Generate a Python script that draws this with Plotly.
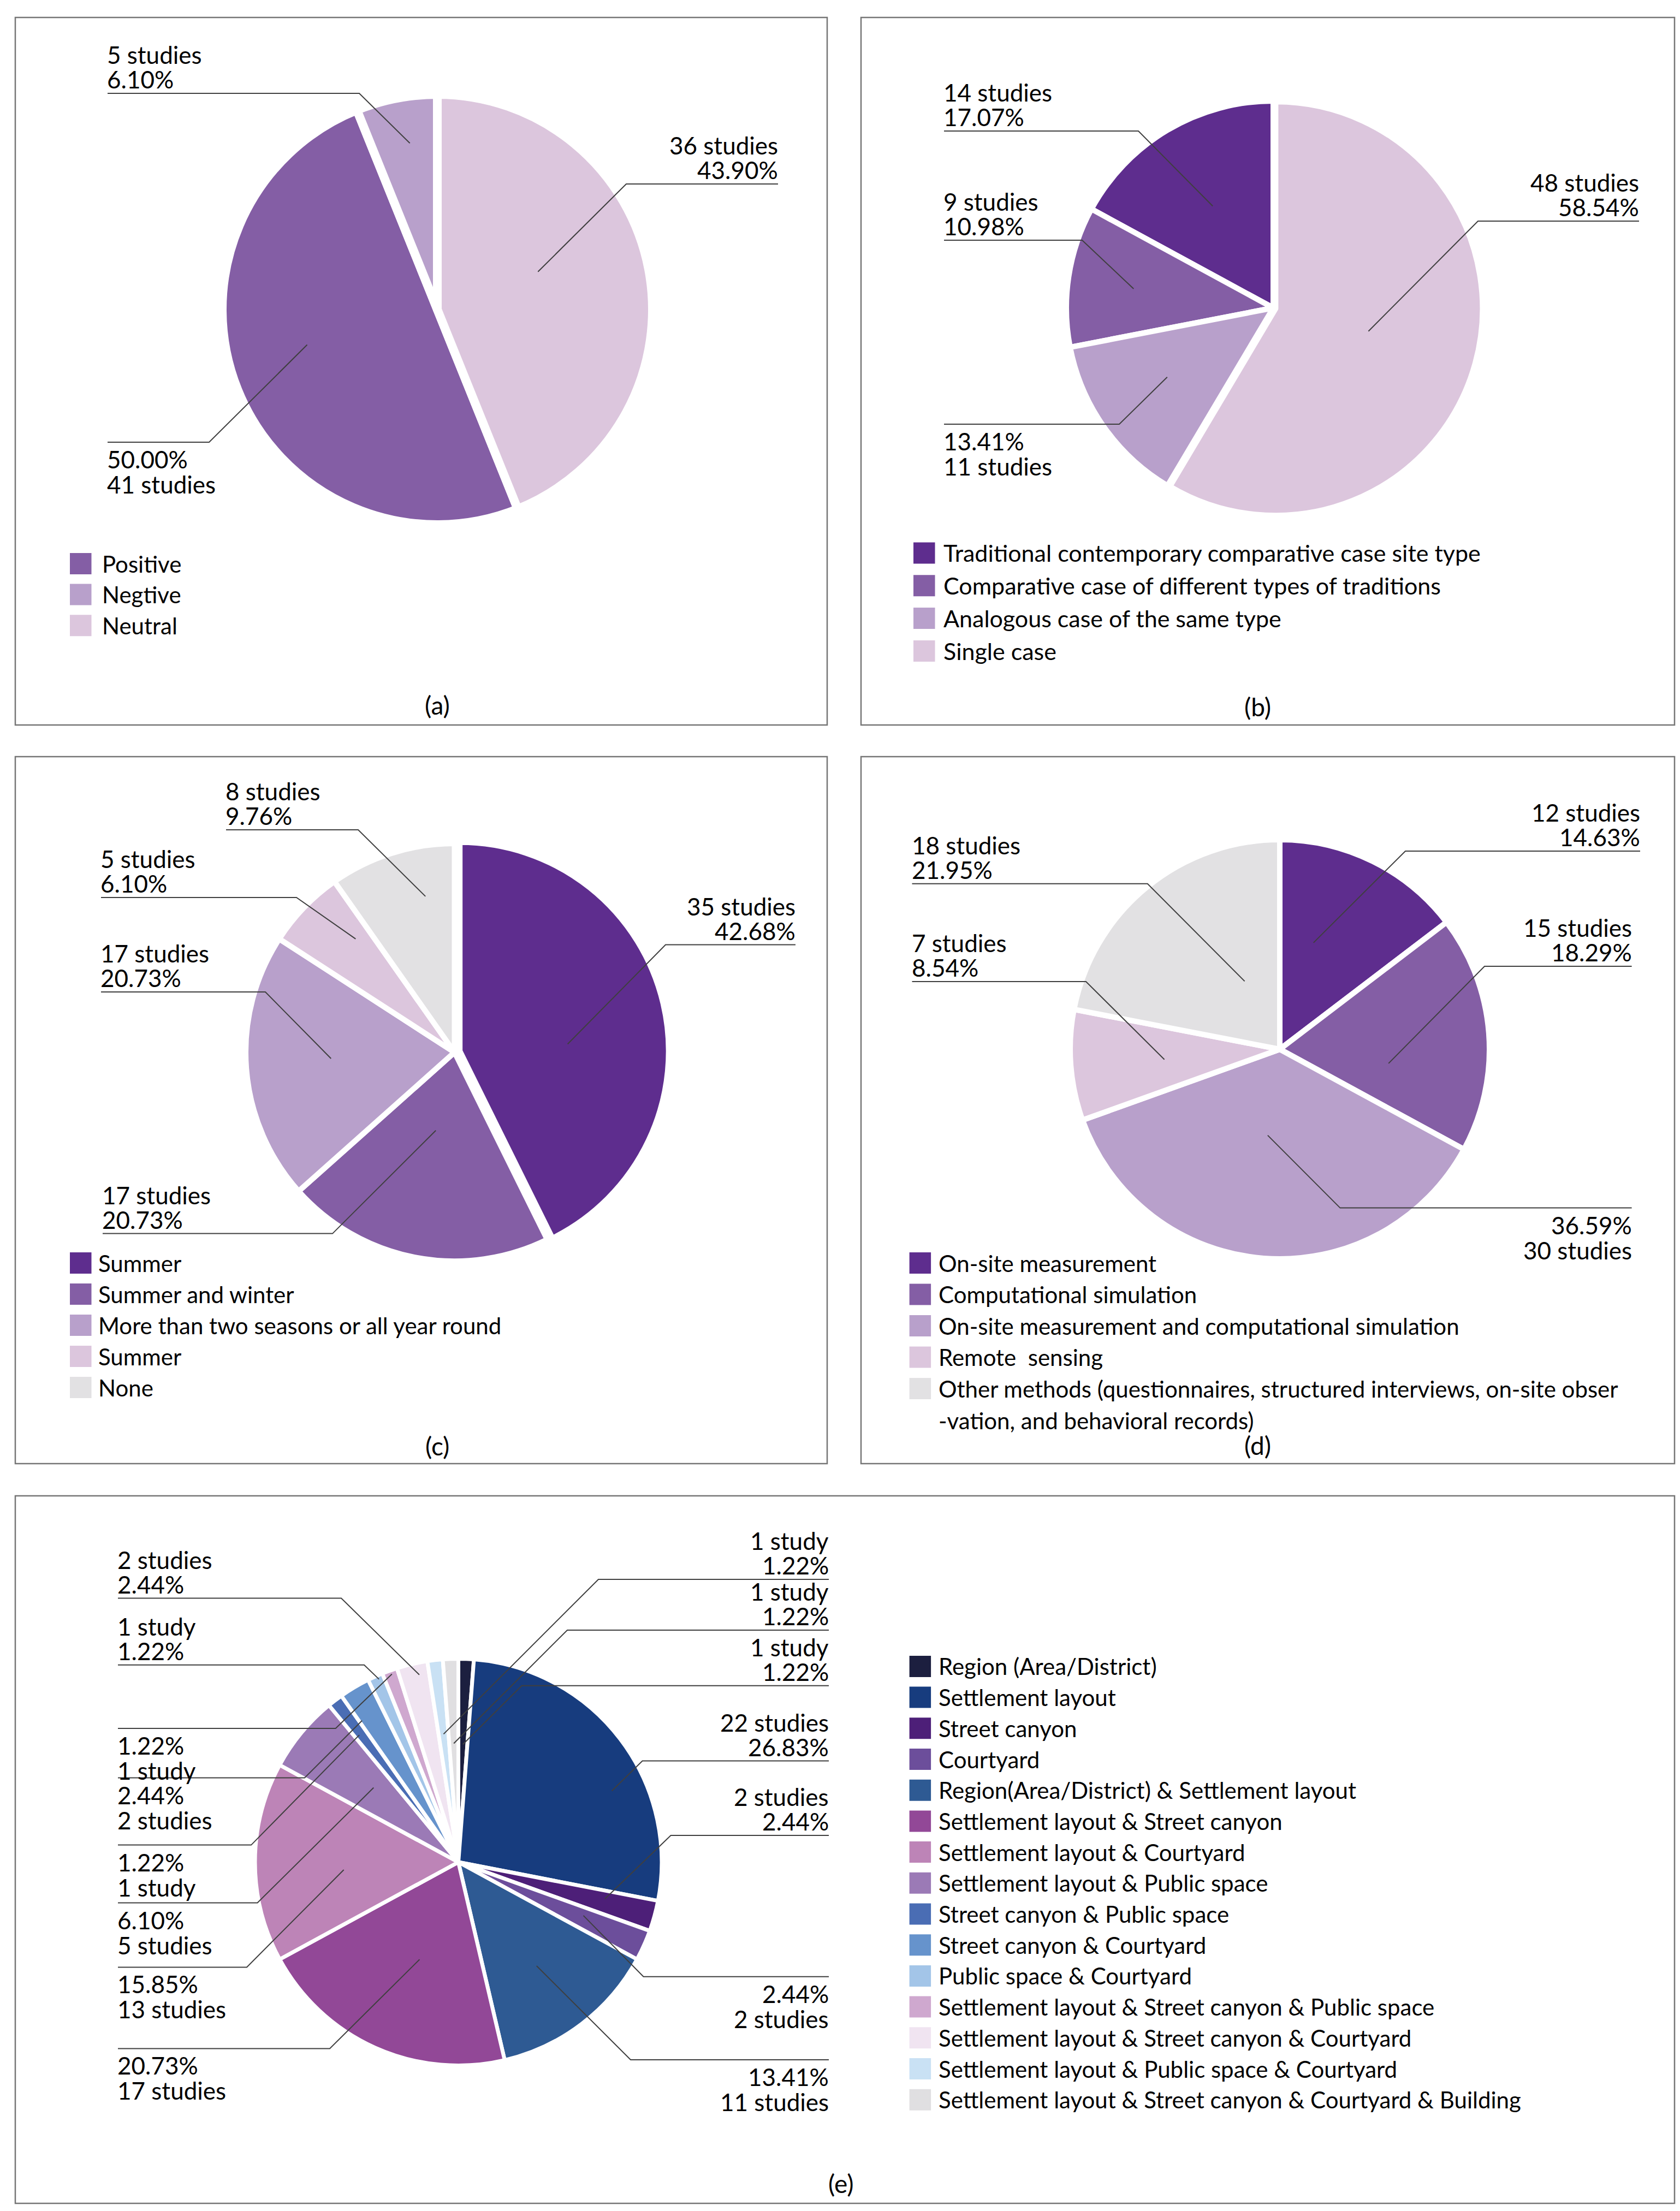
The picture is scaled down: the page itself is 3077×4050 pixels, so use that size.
import math
import plotly.graph_objects as go

W, H = 3077, 4050
FONT = "Lato"
TEXT_COLOR = "#000000"
LEADER = "#3F3F3F"
FRAME = "#767676"
LABEL_SIZE = 44

# ---------------- data ----------------
a_labels = ["Positive", "Negtive", "Neutral"]
a_values = [41, 5, 36]
a_colors = ["#845EA5", "#B8A0CB", "#DCC6DD"]

b_labels = ["Traditional contemporary comparative case site type",
            "Comparative case of different types of traditions",
            "Analogous case of the same type",
            "Single case"]
b_values = [14, 9, 11, 48]
b_colors = ["#5E2D8E", "#845EA5", "#B8A0CB", "#DCC6DD"]

c_labels = ["Summer", "Summer and winter",
            "More than two seasons or all year round",
            "Summer ", "None"]
c_values = [35, 17, 17, 5, 8]
c_colors = ["#5E2D8E", "#845EA5", "#B8A0CB", "#DCC6DD", "#E2E1E3"]

d_labels = ["On-site measurement", "Computational simulation",
            "On-site measurement and computational simulation",
            "Remote\u00a0 sensing",
            "Other methods (questionnaires, structured interviews, on-site obser<br>-vation, and behavioral records)"]
d_values = [12, 15, 30, 7, 18]
d_colors = ["#5E2D8E", "#845EA5", "#B8A0CB", "#DCC6DD", "#E2E1E3"]

e_labels = ["Region (Area/District)", "Settlement layout", "Street canyon", "Courtyard",
            "Region(Area/District) & Settlement layout",
            "Settlement layout & Street canyon", "Settlement layout & Courtyard",
            "Settlement layout & Public space", "Street canyon & Public space",
            "Street canyon & Courtyard", "Public space & Courtyard",
            "Settlement layout & Street canyon & Public space",
            "Settlement layout & Street canyon & Courtyard",
            "Settlement layout & Public space & Courtyard",
            "Settlement layout & Street canyon & Courtyard & Building"]
e_values = [1, 22, 2, 2, 11, 17, 13, 5, 1, 2, 1, 1, 2, 1, 1]
e_colors = ["#1C1F3F", "#173C7E", "#4D1F78", "#6C4E9B", "#2E5A93", "#924897",
            "#BD84B7", "#9B7AB6", "#4A6DB4", "#6693CC", "#A3C5E8", "#CFA8CF",
            "#F0E4F1", "#C9E1F4", "#E0DFE1"]

panel_tags = ["(a)", "(b)", "(c)", "(d)", "(e)"]

# ---------------- layout / style (pixel positions) ----------------
# callout: (slice index, side, text x, rule y, elbow x, text pos, radius frac, angle offset)
# legend: patch left, text left, first row centre, row pitch, font size
panels = [
    dict(labels=a_labels, values=a_values, colors=a_colors,
         cx=793, cy=559, r=386, lw=16, pull=None, direction="clockwise", start=2,
         leg=(120, 180, 1024.5, 56.6, 42),
         callouts=[(1, "L", 189, 163, 650, "above", 0.80, 1.6),
                   (2, "R", 1417, 329, 1139, "above", 0.51, -9.6),
                   (0, "L", 189, 802, 375, "below", 0.64, 6.8)]),
    dict(labels=b_labels, values=b_values, colors=b_colors,
         cx=2324, cy=556, r=374, lw=10, pull=[0, 0, 0, 0.012], direction="counterclockwise", start=0,
         leg=(1665, 1721, 1005, 59.8, 43),
         callouts=[(0, "L", 1721, 232, 2077, "above", 0.58, 0),
                   (1, "L", 1721, 432, 1974, "above", 0.69, -1),
                   (2, "L", 1721, 769, 2042, "below", 0.62, 2),
                   (3, "R", 2994, 397, 2699, "above", 0.48, -1.6)]),
    dict(labels=c_labels, values=c_values, colors=c_colors,
         cx=824.5, cy=1919.6, r=377.5, lw=10, pull=[0.026, 0, 0, 0, 0], direction="clockwise", start=0,
         leg=(120, 173, 2305.5, 57.0, 42),
         callouts=[(4, "L", 406, 1512, 648, "above", 0.77, 7),
                   (3, "L", 177, 1636, 535, "above", 0.73, 5),
                   (2, "L", 177, 1809, 478, "above", 0.60, 1.5),
                   (1, "L", 180, 2251.6, 601, "above", 0.39, 2.5),
                   (0, "R", 1449, 1722.6, 1211, "above", 0.55, 9)]),
    dict(labels=d_labels, values=d_values, colors=d_colors,
         cx=2336, cy=1914, r=379, lw=10, pull=None, direction="clockwise", start=0,
         leg=(1657.6, 1711.5, 2305.5, 57.5, 42),
         callouts=[(0, "R", 2996, 1551, 2566, "above", 0.54, -8.8),
                   (1, "R", 2980.6, 1762, 2711, "above", 0.53, 11.8),
                   (4, "L", 1662.5, 1610.7, 2093.7, "above", 0.37, 12.2),
                   (3, "L", 1662.5, 1790, 1981, "above", 0.56, -0.7),
                   (2, "R", 2980.6, 2204.6, 2446.5, "below", 0.42, 3.6)]),
    dict(labels=e_labels, values=e_values, colors=e_colors,
         cx=831.5, cy=3403, r=369, lw=7, pull=None, direction="clockwise", start=0,
         leg=(1657.6, 1711.5, 3044.4, 56.7, 42),
         callouts=[(12, "L", 208, 2919.6, 617, "above", 0.95, 1.4),
                   (10, "L", 208, 3041.8, 659, "above", 0.99, 0.7),
                   (11, "L", 208, 3158, 606.7, "below", 0.99, 0.3),
                   (9, "L", 208, 3248.5, 550, "below", 0.85, -3.5),
                   (8, "L", 208, 3371.6, 452, "below", 0.80, -0.6),
                   (7, "L", 208, 3477.5, 463.5, "below", 0.56, 1.8),
                   (6, "L", 208, 3595.4, 444, "below", 0.57, -3.8),
                   (5, "L", 208, 3744.4, 596, "below", 0.52, -2.4),
                   (13, "R", 1510, 2885, 1088, "above", 0.64, 0),
                   (14, "R", 1510, 2978, 1031, "above", 0.59, 0),
                   (0, "R", 1510, 3079.7, 947.6, "above", 0.585, 0),
                   (1, "R", 1510, 3217.5, 1168.6, "above", 0.84, 12.4),
                   (2, "R", 1510, 3354, 1220.6, "above", 0.75, -1.3),
                   (3, "R", 1510, 3612.7, 1170.5, "below", 0.675, -1),
                   (4, "R", 1510, 3765, 1147, "below", 0.645, 0.3)]),
]

frames = [(20, 24, 1507, 1320), (1569, 24, 3059, 1320),
          (20, 1378, 1507, 2673), (1569, 1378, 3059, 2673),
          (20, 2732, 3059, 4028)]
tag_pos = [(793, 1284), (2295, 1286), (793, 2640), (2295, 2639), (1532, 3991)]


def px(x):
    return x / W


def py(y):
    return 1 - y / H


def count_text(n):
    return "1 study" if n == 1 else f"{n} studies"


def pct_text(n, tot):
    return f"{100 * n / tot:.2f}%"


def text_ann(x, y, t, anchor, size):
    return dict(x=px(x), y=py(y), xref="paper", yref="paper", text=t, showarrow=False,
                xanchor=anchor, yanchor="middle",
                font=dict(family=FONT, size=size, color=TEXT_COLOR))


fig = go.Figure()
annotations = []
shapes = []

for p in panels:
    vals = p["values"]
    tot = sum(vals)
    cum = [sum(vals[:i]) for i in range(len(vals))]
    if p["direction"] == "clockwise":
        rot = (360.0 * sum(vals[p["start"]:]) / tot) % 360
        mids = [rot + 360.0 * (cum[i] + vals[i] / 2) / tot for i in range(len(vals))]
    else:
        a0 = 360.0 * vals[0] / tot
        rot = 360.0 - a0
        mids = [rot + a0 - 360.0 * (cum[i] + vals[i] / 2) / tot for i in range(len(vals))]
    maxpull = max(p["pull"]) if p["pull"] else 0
    rp = p["r"] + p["lw"] / 2.0
    R = rp * (1 + maxpull)
    cx, cy = p["cx"], p["cy"]
    fig.add_trace(go.Pie(
        labels=p["labels"], values=vals, sort=False, direction=p["direction"],
        rotation=rot, pull=p["pull"], textinfo="none", hoverinfo="label+value+percent",
        marker=dict(colors=p["colors"], line=dict(color="white", width=p["lw"])),
        domain=dict(x=[px(cx - R), px(cx + R)], y=[py(cy + R), py(cy - R)]),
        showlegend=False,
    ))

    # legend (colour patch + label text)
    lpx, ltx, ly0, pitch, lfs = p["leg"]
    for k, (lab, col) in enumerate(zip(p["labels"], p["colors"])):
        yc = ly0 + k * pitch
        shapes.append(dict(type="rect", xref="paper", yref="paper",
                           x0=px(lpx), x1=px(lpx + 39.5), y0=py(yc + 19.5), y1=py(yc - 19.5),
                           fillcolor=col, line=dict(width=0)))
        for j, part in enumerate(lab.split("<br>")):
            annotations.append(text_ann(ltx - 3, yc + j * 58, part.strip() if j else part.rstrip() or part,
                                        "left", lfs))

    # data labels with leader lines
    for (i, side, tx, rule, elbow, pos, frac, off) in p["callouts"]:
        n = vals[i]
        if pos == "above":
            lines = [(count_text(n), rule - 71), (pct_text(n, tot), rule - 26)]
        else:
            lines = [(pct_text(n, tot), rule + 31), (count_text(n), rule + 77)]
        for t, yy in lines:
            annotations.append(text_ann(tx - 3 if side == "L" else tx + 2, yy, t,
                                        "left" if side == "L" else "right", LABEL_SIZE))
        th = math.radians(mids[i] + off)
        ex = cx + frac * p["r"] * math.sin(th)
        ey = cy - frac * p["r"] * math.cos(th)
        path = (f"M{px(tx)},{py(rule)} L{px(elbow)},{py(rule)} "
                f"L{px(ex)},{py(ey)}")
        shapes.append(dict(type="path", path=path, xref="paper", yref="paper",
                           line=dict(color=LEADER, width=2)))

for (x0, y0, x1, y1) in frames:
    shapes.append(dict(type="rect", xref="paper", yref="paper",
                       x0=px(x0), x1=px(x1), y0=py(y1), y1=py(y0),
                       line=dict(color=FRAME, width=2.5), fillcolor="rgba(0,0,0,0)"))

for tag, (tx, ty) in zip(panel_tags, tag_pos):
    annotations.append(text_ann(tx, ty, tag, "center", 46))

fig.update_layout(
    width=W, height=H, autosize=False,
    margin=dict(l=0, r=0, t=0, b=0),
    paper_bgcolor="white", plot_bgcolor="white",
    font=dict(family=FONT, size=42, color=TEXT_COLOR),
    annotations=annotations, shapes=shapes,
    showlegend=False,
)

fig.write_html("out.html")
